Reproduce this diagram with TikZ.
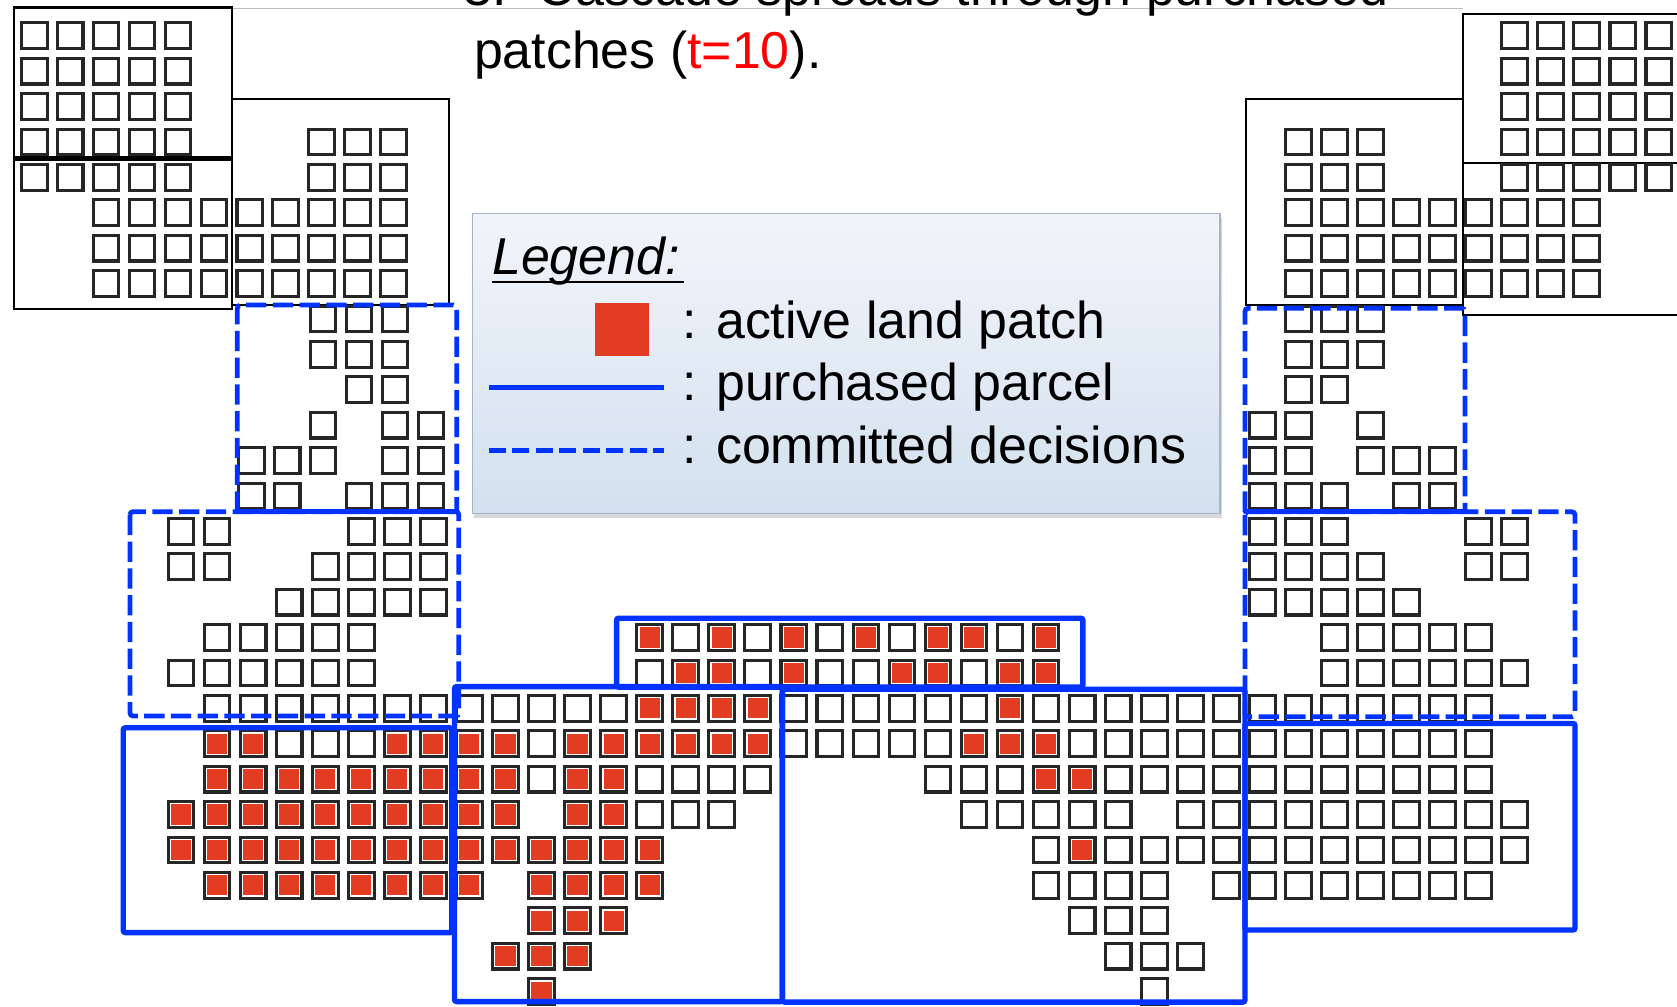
\documentclass[tikz,border=0pt]{standalone}
\usepackage{fontspec}
\setmainfont{Liberation Sans}
\usetikzlibrary{shadows}
\definecolor{patchred}{RGB}{226,61,34}
\definecolor{parcelblue}{RGB}{0,51,255}
\definecolor{legtop}{RGB}{241,245,250}
\definecolor{legbot}{RGB}{211,224,239}
\definecolor{legedge}{RGB}{165,180,198}
% grid origin and pitch of the land patches
\def\gx{34.5}
\def\gp{33.7}
% empty patches of one row
\newcommand\wcells[2]{\foreach \c in {#2}{%
  \path[cellbox] ({\gx+\gp*\c-12},{33.4+33.1*#1-12}) rectangle ++(24,24);}}
% active patches of one row
\newcommand\rcells[2]{\foreach \c in {#2}{%
  \path[cellbox] ({\gx+\gp*\c-12},{33.4+33.1*#1-12}) rectangle ++(24,24);
  \fill[patchred] ({\gx+\gp*\c-9.4},{33.4+33.1*#1-9.4}) rectangle ++(18.8,18.8);}}
\begin{document}
\begin{tikzpicture}[x=1pt,y=-1pt,
  panel/.style={draw=black, line width=2.2pt, fill=white},
  cellbox/.style={draw=black!85, line width=2.9pt, fill=white},
  parcel/.style={draw=parcelblue, line width=5pt, rounded corners=2pt},
  commit/.style={draw=parcelblue, line width=4.5pt, dash pattern=on 19pt off 6pt, rounded corners=3pt},
  commitedge/.style={draw=parcelblue, line width=4.5pt},
  txt/.style={inner sep=0pt, anchor=base west, font=\fontsize{48.5pt}{58pt}\selectfont}]
\useasboundingbox (0,0) rectangle (1568,941);
\clip (0,0) rectangle (1568,941);

% title
\draw[black!25, line width=1.2pt] (217,7.8) -- (1368,7.8);
\node[txt] (num) at (433,5.5) {3.};
\node[txt] (title1) at (502.6,5.5) {Cascade spreads through purchased};
\node[txt] (title2) at (443,63.9) {patches (\textcolor{red}{t=10}).};

% earlier parcels (black frames)
\path[panel] (13.1,6.9) rectangle (217.2,147.1);
\path[panel] (13.1,149) rectangle (217.2,289.2);
\path[panel] (217.2,92.6) rectangle (419.8,285.2);
\path[panel] (1165,92.6) rectangle (1369.7,285.2);
\path[panel] (1368,152.7) rectangle (1600,294.5);
\path[panel] (1368,13.1) rectangle (1600,152.7);

% patches, upper left
\def\gx{32}\def\gp{33.6}
\wcells{0}{0,1,2,3,4}
\wcells{1}{0,1,2,3,4}
\wcells{2}{0,1,2,3,4}
\wcells{3}{0,1,2,3,4,8,9,10}
\wcells{4}{0,1,2,3,4,8,9,10}
\wcells{5}{2,3,4,5,6,7,8,9,10}
\wcells{6}{2,3,4,5,6,7,8,9,10}
\wcells{7}{2,3,4,5,6,7,8,9,10}
\def\gx{33.3}
\wcells{8}{8,9,10}
\wcells{9}{8,9,10}
\wcells{10}{9,10}
\wcells{11}{8,10,11}
\wcells{12}{6,7,8,10,11}
\wcells{13}{6,7,9,10,11}

% patches, rest of the landscape
\def\gx{34.5}\def\gp{33.7}
\wcells{0}{41,42,43,44,45}
\wcells{1}{41,42,43,44,45}
\wcells{2}{41,42,43,44,45}
\wcells{3}{35,36,37,41,42,43,44,45}
\wcells{4}{35,36,37,41,42,43,44,45}
\wcells{5}{35,36,37,38,39,40,41,42,43}
\wcells{6}{35,36,37,38,39,40,41,42,43}
\wcells{7}{35,36,37,38,39,40,41,42,43}
\wcells{8}{35,36,37}
\wcells{9}{35,36,37}
\wcells{10}{35,36}
\wcells{11}{34,35,37}
\wcells{12}{34,35,37,38,39}
\wcells{13}{34,35,36,38,39}
\wcells{14}{4,5,9,10,11,34,35,36,40,41}
\wcells{15}{4,5,8,9,10,11,34,35,36,37,40,41}
\wcells{16}{7,8,9,10,11,34,35,36,37,38}
\wcells{17}{5,6,7,8,9,18,20,22,24,27,36,37,38,39,40}
\rcells{17}{17,19,21,23,25,26,28}
\wcells{18}{4,5,6,7,8,9,17,20,22,23,26,36,37,38,39,40,41}
\rcells{18}{18,19,21,24,25,27,28}
\wcells{19}{5,6,7,8,9,10,11,12,13,14,15,16,21,22,23,24,25,26,28,29,30,31,32,33,34,35,36,37,38,39,40}
\rcells{19}{17,18,19,20,27}
\wcells{20}{7,8,9,14,21,22,23,24,25,29,30,31,32,33,34,35,36,37,38,39,40}
\rcells{20}{5,6,10,11,12,13,15,16,17,18,19,20,26,27,28}
\wcells{21}{14,17,18,19,20,25,26,27,30,31,32,33,34,35,36,37,38,39,40}
\rcells{21}{5,6,7,8,9,10,11,12,13,15,16,28,29}
\wcells{22}{17,18,19,26,27,28,29,30,32,33,34,35,36,37,38,39,40,41}
\rcells{22}{4,5,6,7,8,9,10,11,12,13,15,16}
\wcells{23}{28,30,31,32,33,34,35,36,37,38,39,40,41}
\rcells{23}{4,5,6,7,8,9,10,11,12,13,14,15,16,17,29}
\wcells{24}{28,29,30,31,33,34,35,36,37,38,39,40}
\rcells{24}{5,6,7,8,9,10,11,12,14,15,16,17}
\wcells{25}{29,30,31}
\rcells{25}{14,15,16}
\wcells{26}{30,31,32}
\rcells{26}{13,14,15}
\wcells{27}{31}
\rcells{27}{14}

% committed decisions (dashed)
\path[commit] (221.9,478.4) -- (221.9,285.2) -- (427,285.2) -- (427,478.4);
\path[commitedge] (221.9,478.4) -- (427,478.4);
\path[commit] (121.5,478.4) rectangle (429,669.5);
\path[commit] (1164,478.5) -- (1164,288.3) -- (1369.7,288.3) -- (1369.7,478.5);
\path[commitedge] (1164,478.5) -- (1369.7,478.5);
\path[commit] (1164,478.5) rectangle (1472.6,670.2);

% purchased parcels (solid)
\path[parcel] (115.2,680.5) rectangle (422.5,872);
\path[parcel] (425,642) rectangle (731.5,936.5);
\path[parcel] (731.5,644.5) rectangle (1164,937);
\path[parcel] (576.5,578) rectangle (1012.5,642.5);
\path[parcel] (1164,676.4) rectangle (1472.6,869.6);

% legend
\path[draw=legedge, line width=1.2pt, top color=legtop, bottom color=legbot,
  drop shadow={shadow xshift=1.5pt, shadow yshift=-4pt, opacity=0.3}]
  (441.6,199.5) rectangle (1140.8,480);
\node[txt] (leghead) at (460,257) {\itshape Legend:};
\draw[black, line width=2.2pt] (460,263.5) -- (640,263.5);
\fill[patchred] (556,283.6) rectangle (606.8,332.5);
\draw[parcelblue, line width=4.8pt] (456.9,362) -- (620.7,362);
\draw[parcelblue, line width=4.8pt, dash pattern=on 16pt off 6pt] (456.9,421) -- (620.7,421);
\node[txt] (lactive) at (638,316.3) {: active land patch};
\node[txt] (lparcel) at (638,374) {: purchased parcel};
\node[txt] (lcommit) at (638,433) {: committed decisions};
\end{tikzpicture}
\end{document}
